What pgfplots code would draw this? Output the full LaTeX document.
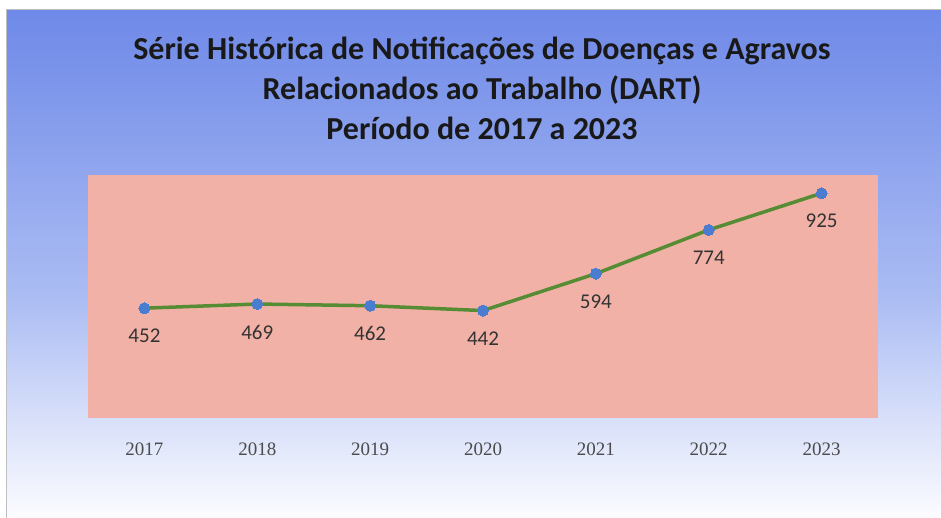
\documentclass[border=0pt]{standalone}
\usepackage{pgfplots}
\pgfplotsset{compat=1.18}
\usepackage{fontspec}
\setmainfont{Carlito}
\newfontfamily\tickfont{Liberation Serif}
\definecolor{bgtop}{RGB}{110,137,232}
\definecolor{bgmid}{RGB}{172,189,243}
\definecolor{bgbot}{RGB}{252,252,255}
\definecolor{plotbg}{RGB}{242,177,166}
\definecolor{linegreen}{RGB}{86,140,52}
\definecolor{markblue}{RGB}{74,124,208}
\begin{document}
\begin{tikzpicture}[x=1pt,y=1pt]
\useasboundingbox (0,0) rectangle (941,518);
\fill[white] (0,0) rectangle (941,518);
\shade[top color=bgtop,bottom color=bgmid] (6,218) rectangle (941,508);
\shade[top color=bgmid,bottom color=bgbot] (6,0) rectangle (941,218.5);
\draw[gray!50, line width=1pt] (6,0) -- (6,508) -- (941,508);
\node[align=center, font=\fontsize{32}{40}\selectfont\bfseries, text=black!90] at (482,430)
  {Série Histórica de Notificações de Doenças e Agravos\\Relacionados ao Trabalho (DART)\\Período de 2017 a 2023};
\begin{axis}[at={(88pt,100pt)}, anchor=south west, scale only axis,
  width=790pt, height=243pt,
  xmin=-0.5, xmax=6.5, ymin=0, ymax=1000,
  axis background/.style={fill=plotbg},
  axis line style={draw=none},
  major tick length=0pt,
  ytick=\empty,
  xtick={0,1,2,3,4,5,6},
  xticklabels={2017,2018,2019,2020,2021,2022,2023},
  xticklabel style={font=\tickfont\fontsize{19}{22}\selectfont, text=black!70, anchor=center, yshift=-31pt},
  clip=false,
  nodes near coords,
  point meta=explicit symbolic,
  every node near coord/.style={font=\fontsize{21}{24}\selectfont, text=black!80, anchor=center, yshift=-28pt},
]
\addplot[color=linegreen, line width=3.5pt, mark=*, mark size=5.5pt, mark options={fill=markblue, draw=markblue, line width=0pt}]
  table[meta=lab] {
x y lab
0 452 452
1 469 469
2 462 462
3 442 442
4 594 594
5 774 774
6 925 925
};
\end{axis}
\end{tikzpicture}
\end{document}
